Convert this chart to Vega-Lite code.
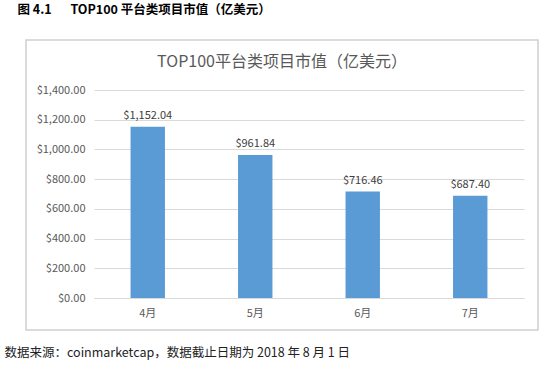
{
  "$schema": "https://vega.github.io/schema/vega-lite/v6.json",
  "autosize": {"type": "none"},
  "width": 512,
  "height": 290,
  "padding": {"left": 26, "top": 40, "right": 16, "bottom": 39},
  "background": "white",
  "view": {"stroke": "#d0d0d0", "strokeWidth": 1.5, "fill": "white"},
  "title": {
    "text": "TOP100平台类项目市值（亿美元）",
    "anchor": "middle",
    "frame": "group",
    "offset": 0,
    "dy": 67,
    "font": "Noto Sans CJK SC",
    "fontSize": 16,
    "fontWeight": "normal",
    "color": "#595959"
  },
  "config": {
    "view": {"stroke": "#d0d0d0", "strokeWidth": 1.5},
    "font": "Noto Sans CJK SC"
  },
  "data": {
    "values": [
      {"month": "4月", "value": 1152.04},
      {"month": "5月", "value": 961.84},
      {"month": "6月", "value": 716.46},
      {"month": "7月", "value": 687.40}
    ]
  },
  "encoding": {
    "x": {
      "field": "month",
      "type": "nominal",
      "sort": null,
      "scale": {"range": [68, 498], "paddingInner": 0.68, "paddingOuter": 0.34},
      "axis": {
        "orient": "bottom",
        "offset": -32,
        "labelAngle": 0,
        "ticks": false,
        "domainColor": "#d9d9d9",
        "labelPadding": 9,
        "labelFontSize": 11,
        "labelColor": "#595959",
        "title": "数据来源：coinmarketcap，数据截止日期为 2018 年 8 月 1 日",
        "titleX": -22,
        "titleY": 54,
        "titleAlign": "left",
        "titleBaseline": "middle",
        "titleAnchor": "start",
        "titleFontSize": 12.5,
        "titleFontWeight": "normal",
        "titleColor": "#222222"
      }
    },
    "y": {
      "field": "value",
      "type": "quantitative",
      "scale": {"domain": [0, 1400], "range": [258, 50], "nice": false, "zero": true},
      "axis": {
        "orient": "left",
        "offset": -68,
        "values": [0, 200, 400, 600, 800, 1000, 1200, 1400],
        "format": "$,.2f",
        "domain": false,
        "ticks": false,
        "grid": true,
        "gridColor": "#d9d9d9",
        "labelPadding": 9,
        "labelFontSize": 11,
        "labelColor": "#595959",
        "title": "图 4.1\u2002\u2002\u2002TOP100 平台类项目市值（亿美元）",
        "titleAngle": 0,
        "titleX": -77,
        "titleY": -31,
        "titleAlign": "left",
        "titleBaseline": "middle",
        "titleFontSize": 12.5,
        "titleFontWeight": "bold",
        "titleColor": "#000000"
      }
    }
  },
  "layer": [
    {"mark": {"type": "bar", "color": "#5B9BD5"}},
    {
      "mark": {"type": "text", "baseline": "bottom", "dy": -6, "fontSize": 11, "color": "#404040"},
      "encoding": {"text": {"field": "value", "type": "quantitative", "format": "$,.2f"}}
    }
  ]
}
